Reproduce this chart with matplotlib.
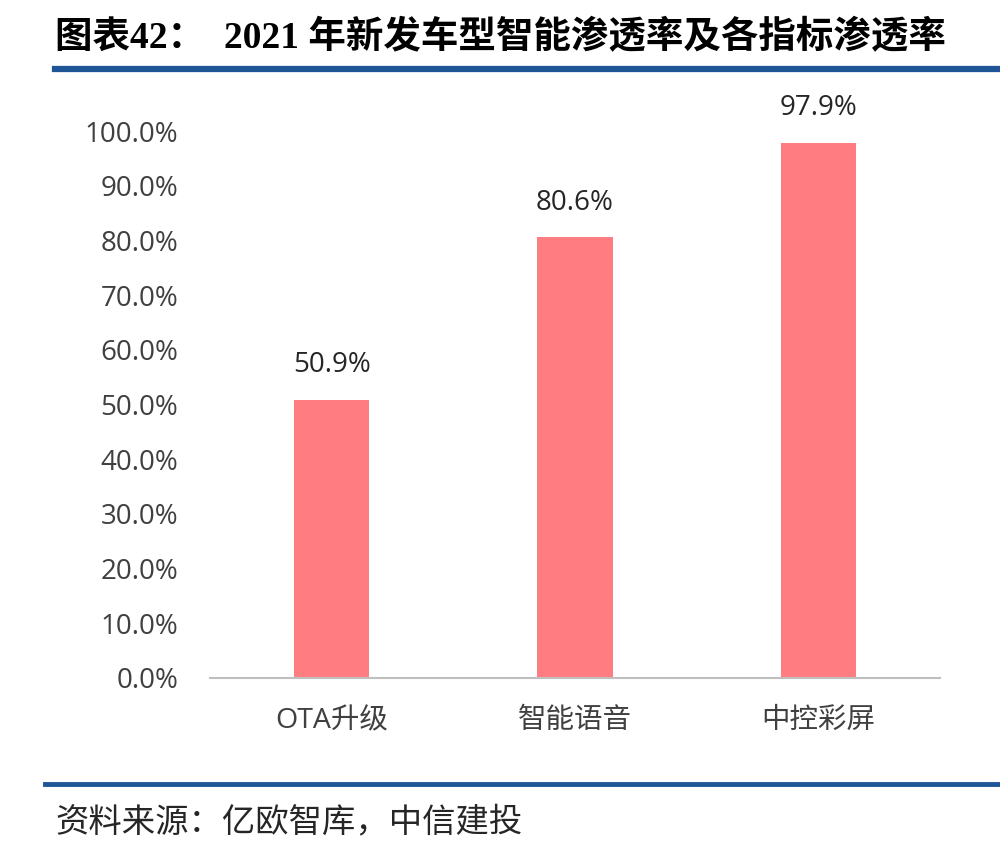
import matplotlib
matplotlib.use("Agg")
import matplotlib.pyplot as plt
from matplotlib.lines import Line2D

plt.rcParams['font.family'] = ['Open Sans', 'Noto Sans CJK SC', 'DejaVu Sans']

categories = ["OTA升级", "智能语音", "中控彩屏"]
values = [50.9, 80.6, 97.9]
yticks = [0, 10, 20, 30, 40, 50, 60, 70, 80, 90, 100]
title = "图表42：  2021 年新发车型智能渗透率及各指标渗透率"
source = "资料来源：亿欧智库，中信建投"

fig = plt.figure(figsize=(10, 8.51), dpi=100)
ax = fig.add_axes([0.21, 0.2033, 0.73, 0.6427])

x = range(len(categories))
bars = ax.bar(x, values, width=0.31, color="#FF7C80", zorder=2)
for xi, v in zip(x, values):
    ax.text(xi, v + 6.3, f"{v:.1f}%", ha="center", va="center",
            fontsize=20, color="#262626")

ax.set_xlim(-0.5, 2.5)
ax.set_ylim(0, 100)
ax.set_yticks(yticks)
ax.set_yticklabels([f"{t:.1f}%" for t in yticks], fontsize=20, color="#404040")
ax.set_xticks(list(x))
ax.set_xticklabels(categories, fontsize=20.5, color="#404040")
ax.tick_params(axis="y", length=0, pad=23)
ax.tick_params(axis="x", length=0, pad=21)
for s in ["top", "right", "left"]:
    ax.spines[s].set_visible(False)
ax.spines["bottom"].set_color("#BFBFBF")
ax.spines["bottom"].set_linewidth(1.5)

fig.text(0.055, 0.955, title, fontsize=27, fontweight="bold", color="#000000",
         va="center", ha="left", family=["Liberation Serif", "Noto Sans CJK SC"])
fig.add_artist(Line2D([0.055, 1.0], [0.919, 0.919], color="#1F5596", linewidth=4.5))
fig.add_artist(Line2D([0.045, 1.0], [0.079, 0.079], color="#1F5596", linewidth=3.5))
fig.text(0.055, 0.034, source, fontsize=24, color="#262626", va="center", ha="left",
         family=["Noto Sans CJK SC"], style="italic")

fig.savefig("out.png", dpi=100, facecolor="white")
